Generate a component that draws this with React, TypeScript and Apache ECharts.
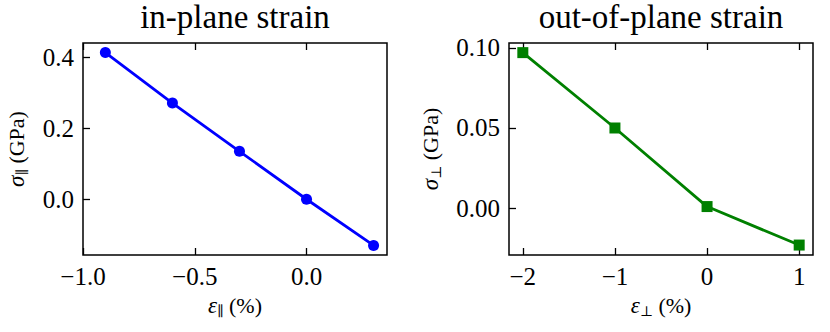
import React, { useEffect, useRef } from "react";
import * as echarts from "echarts";

const leftX = [-0.9, -0.6, -0.3, 0.0, 0.3];
const leftY = [0.413, 0.271, 0.135, 0.0, -0.13];
const rightX = [-2, -1, 0, 1];
const rightY = [0.097, 0.05, 0.001, -0.023];

const leftXTicks = [-1, -0.5, 0];
const leftYTicks = [0, 0.2, 0.4];
const rightXTicks = [-2, -1, 0, 1];
const rightYTicks = [0, 0.05, 0.1];

const titles = ["in-plane strain", "out-of-plane strain"];

const SERIF = "'Liberation Serif', serif";

function fmt(decimals: number) {
  return (v: number) => {
    let s = (Math.abs(v) < 1e-12 ? 0 : v).toFixed(decimals);
    return s.replace("-", "\u2212");
  };
}

const nameRich = {
  i: { fontStyle: "italic", fontSize: 23, lineHeight: 26, fontFamily: SERIF, color: "#000" },
  s: { fontSize: 14, lineHeight: 13, verticalAlign: "bottom", fontFamily: "'DejaVu Serif', serif", color: "#000" },
  n: { fontSize: 22, lineHeight: 26, fontFamily: SERIF, color: "#000" },
};

const tickStyle = { inside: true, length: 7, lineStyle: { color: "#000", width: 1.3 } };

function mainAxis(
  gridIndex: number,
  min: number,
  max: number,
  ticks: number[],
  decimals: number,
  name: string,
  nameGap: number,
  isY: boolean
) {
  return {
    type: "value",
    gridIndex,
    min,
    max,
    position: isY ? "left" : "bottom",
    name,
    nameLocation: "middle",
    nameGap,
    nameRotate: isY ? 90 : 0,
    nameTextStyle: { fontFamily: SERIF, fontSize: 22, color: "#000", rich: nameRich },
    axisLine: { show: false, onZero: false },
    splitLine: { show: false },
    axisTick: { ...tickStyle, customValues: ticks },
    axisLabel: {
      customValues: ticks,
      formatter: fmt(decimals),
      fontFamily: SERIF,
      fontSize: 25,
      color: "#000",
      margin: 9,
    },
  };
}

function topAxis(gridIndex: number, min: number, max: number, ticks: number[]) {
  return {
    type: "value",
    gridIndex,
    min,
    max,
    position: "top",
    axisLine: { show: false, onZero: false },
    splitLine: { show: false },
    axisTick: { ...tickStyle, customValues: ticks },
    axisLabel: { show: false },
  };
}

export default function App() {
  const ref = useRef<HTMLDivElement>(null);
  useEffect(() => {
    if (!ref.current) return;
    const chart = echarts.init(ref.current, undefined, { renderer: "svg" });
    const grids = [
      { left: 83, top: 43, width: 304, height: 212 },
      { left: 509, top: 43, width: 304, height: 212 },
    ];
    const option: any = {
      animation: false,
      backgroundColor: "#fff",
      textStyle: { fontFamily: SERIF, color: "#000" },
      title: titles.map((t, i) => ({
        text: t,
        left: grids[i].left + grids[i].width / 2,
        top: 0,
        padding: 0,
        textAlign: "center",
        textStyle: { fontFamily: SERIF, fontSize: 33, fontWeight: "normal", color: "#000" },
      })),
      grid: grids.map((g) => ({ ...g, show: true, borderColor: "#000", borderWidth: 1.5, backgroundColor: "transparent" })),
      xAxis: [
        mainAxis(0, -1, 0.36, leftXTicks, 1, "{i|ε}{s|∥}{n| (%)}", 37, false),
        topAxis(0, -1, 0.36, leftXTicks),
        mainAxis(1, -2.15, 1.15, rightXTicks, 0, "{i|ε}{s|⊥}{n| (%)}", 37, false),
        topAxis(1, -2.15, 1.15, rightXTicks),
      ],
      yAxis: [
        mainAxis(0, -0.157, 0.44, leftYTicks, 1, "{i|σ}{s|∥}{n| (GPa)}", 54, true),
        mainAxis(1, -0.0292, 0.103, rightYTicks, 2, "{i|σ}{s|⊥}{n| (GPa)}", 66, true),
      ],
      series: [
        {
          type: "line",
          xAxisIndex: 0,
          yAxisIndex: 0,
          data: leftX.map((x, i) => [x, leftY[i]]),
          symbol: "circle",
          symbolSize: 11,
          lineStyle: { color: "#0000ff", width: 2.8 },
          itemStyle: { color: "#0000ff" },
        },
        {
          type: "line",
          xAxisIndex: 2,
          yAxisIndex: 1,
          data: rightX.map((x, i) => [x, rightY[i]]),
          symbol: "rect",
          symbolSize: 11,
          lineStyle: { color: "#008000", width: 2.8 },
          itemStyle: { color: "#008000" },
        },
      ],
    };
    chart.setOption(option);
    return () => chart.dispose();
  }, []);
  return (
    <div
      ref={ref}
      style={{ position: "fixed", left: 0, top: 0, width: 830, height: 332 }}
    />
  );
}
